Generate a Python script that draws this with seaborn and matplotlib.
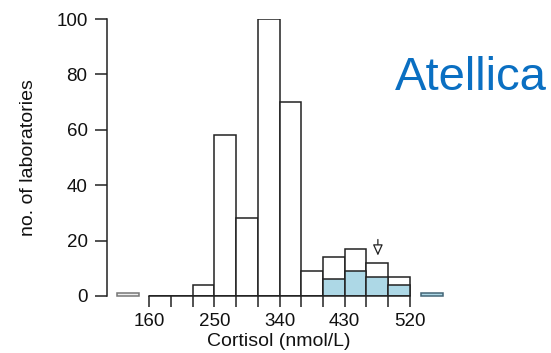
import matplotlib
matplotlib.use("Agg")
import matplotlib.pyplot as plt
import seaborn as sns
import numpy as np
import pandas as pd

# ---- data ----
bin_edges = [160, 190, 220, 250, 280, 310, 340, 370, 400, 430, 460, 490, 520]
all_counts = [0, 0, 4, 58, 28, 100, 70, 9, 14, 17, 12, 7]
atellica_counts = [0, 0, 0, 0, 0, 0, 0, 0, 6, 9, 7, 4]
below_range = {"edges": [115, 146], "count": [1]}
above_range = {"edges": [535, 566], "count": [1]}
arrow_value = 476
x_ticks = [160, 190, 220, 250, 280, 310, 340, 370, 400, 430, 460, 490, 520]
x_ticklabels = ["160", "", "", "250", "", "", "340", "", "", "430", "", "", "520"]
y_ticks = [0, 20, 40, 60, 80, 100]

centers = [(a + b) / 2 for a, b in zip(bin_edges[:-1], bin_edges[1:])]
df = pd.DataFrame({"center": centers, "all": all_counts, "atellica": atellica_counts})

sns.set_theme(style="ticks")
plt.rcParams["font.family"] = ["Liberation Sans", "DejaVu Sans"]

fig = plt.figure(figsize=(5.51, 3.53), dpi=100)
ax = fig.add_axes([107 / 551, 1 - 296 / 353, 343 / 551, (296 - 19) / 353])

edge = "#222222"
lw = 1.1
sns.histplot(data=df, x="center", weights="all", bins=bin_edges, ax=ax,
             color="white", edgecolor=edge, linewidth=lw, alpha=1, zorder=2)
sns.histplot(data=df, x="center", weights="atellica", bins=bin_edges, ax=ax,
             color="#ADD8E6", edgecolor=edge, linewidth=lw, alpha=1, zorder=3)

# out-of-range boxes
bl = below_range["edges"]
ax.bar([(bl[0] + bl[1]) / 2], below_range["count"], width=bl[1] - bl[0],
       color="#eeeeee", edgecolor="#777777", linewidth=lw, zorder=3, clip_on=False)
ab = above_range["edges"]
ax.bar([(ab[0] + ab[1]) / 2], above_range["count"], width=ab[1] - ab[0],
       color="#ADD8E6", edgecolor="#446677", linewidth=lw, zorder=3, clip_on=False)

# arrow
ax.annotate("", xy=(arrow_value, 14.6), xytext=(arrow_value, 20.4),
            arrowprops=dict(arrowstyle="-|>,head_length=0.55,head_width=0.25",
                            fc="white", ec=edge, lw=0.9, shrinkA=0, shrinkB=0),
            zorder=5)

ax.set_xlim(101.5, 575.7)
ax.set_ylim(0, 100)

for s in ["top", "right"]:
    ax.spines[s].set_visible(False)
ax.spines["bottom"].set_bounds(160, 520)
ax.spines["left"].set_bounds(0, 100)
for s in ["bottom", "left"]:
    ax.spines[s].set_color(edge)
    ax.spines[s].set_linewidth(lw)
    ax.spines[s].set_zorder(4)

ax.set_xticks(x_ticks)
ax.set_xticklabels(x_ticklabels)
ax.set_yticks(y_ticks)
ax.tick_params(axis="both", direction="out", color=edge, width=lw, labelsize=13.5,
               labelcolor="#111111")
ax.tick_params(axis="x", length=8, pad=4)
ax.tick_params(axis="y", length=8.5, pad=5.5)

ax.set_xlabel("Cortisol (nmol/L)", fontsize=14, color="#111111", labelpad=2.5)
ax.set_ylabel("no. of laboratories", fontsize=14, color="#111111", labelpad=14)

fig.text(395 / 551, 1 - 90 / 353, "Atellica", fontsize=34, color="#0A6FC2",
         va="baseline", ha="left")

fig.savefig("out.png", dpi=100)
